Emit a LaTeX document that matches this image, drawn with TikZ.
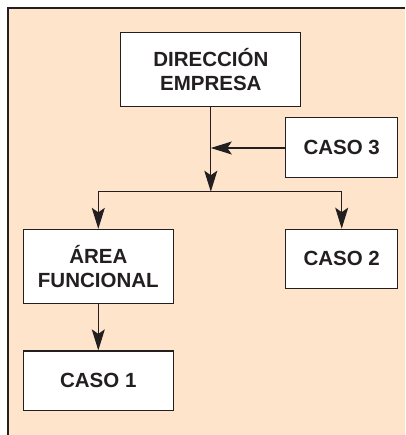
\documentclass[tikz,border=0pt]{standalone}
\usepackage{fontspec}
\setmainfont{Liberation Sans}
\usetikzlibrary{arrows.meta}
\definecolor{peach}{RGB}{253,228,203}
\definecolor{ink}{RGB}{35,31,32}
\begin{document}
\begin{tikzpicture}[x=1pt,y=-1pt,
  box/.style={draw=ink,line width=1.3pt,fill=white,rectangle,align=center,
    font=\fontsize{20.5}{23.5}\selectfont\bfseries,text=ink,inner sep=0pt},
  conn/.style={draw=ink,line width=1.1pt},
  arr/.style={conn,-{Stealth[length=21pt,width=13pt,inset=4.5pt]}}]
\useasboundingbox (0,0) rectangle (405,435);
\fill[peach] (8,8) rectangle (405,435);
\draw[ink,line width=1.2pt] (8,435) -- (8,8) -- (405,8);
\node[box,minimum width=180pt,minimum height=74pt] (dir) at (210.8,69.5) {DIRECCIÓN\\EMPRESA};
\node[box,minimum width=112pt,minimum height=59.6pt] (c3) at (341.7,147.5) {CASO 3};
\node[box,minimum width=150pt,minimum height=74pt] (area) at (98.3,266.5) {ÁREA\\FUNCIONAL};
\node[box,minimum width=112pt,minimum height=59pt] (c2) at (341.7,258.8) {CASO 2};
\node[box,minimum width=150pt,minimum height=59.3pt] (c1) at (98.3,380.7) {CASO 1};
\coordinate (j) at (210.8,191.7);
\coordinate (m) at (210.8,148);
\draw[arr] (dir) -- (j);
\draw[arr] (c3.west |- m) -- (m);
\draw[conn] (j -| area) -- (j -| c2);
\draw[arr] (j -| area) -- (area);
\draw[arr] (j -| c2) -- (c2);
\draw[arr] (area) -- (c1);
\end{tikzpicture}
\end{document}
